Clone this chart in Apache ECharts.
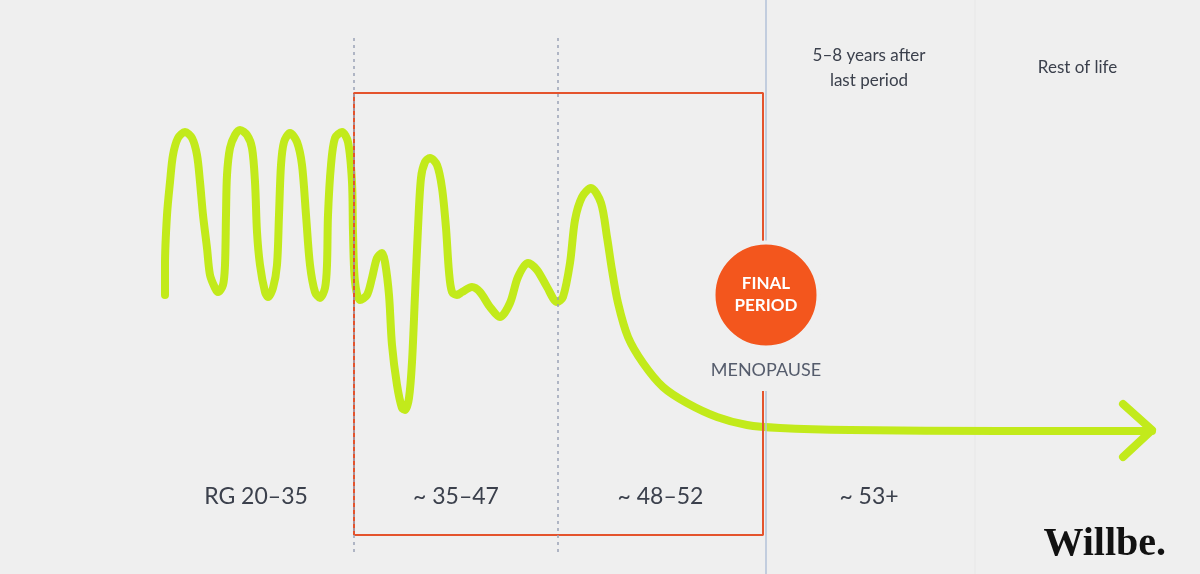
<!DOCTYPE html>
<html>
<head>
<meta charset="utf-8">
<script src="https://cdn.jsdelivr.net/npm/echarts@6/dist/echarts.min.js"></script>
<style>
  html, body { margin: 0; padding: 0; background: #efefef; }
  #chart { width: 1200px; height: 574px; }
</style>
</head>
<body>
<div id="chart"></div>
<script>
// ---- data (x = time position along the life course, level = hormone level) ----
const hormoneCurve = [
  [165,279],[165,309],[167,359],[170,392],[173,419],[178,436],[185,442],[192,436],[197,419],[200,392],[203,359],[207,326],
  [210,299],[215,286],[218,282],[223,289],[225,309],[226,359],[227,399],[230,426],[235,439],[240,444],[247,439],[252,426],
  [255,392],[257,342],[260,309],[265,282],[268,277],[273,286],[277,309],[279,359],[281,409],[284,432],[290,441],[297,432],
  [302,409],[306,359],[310,309],[315,282],[320,276],[325,286],[327,309],[328,359],[331,409],[335,436],[342,442],[348,432],
  [352,392],[353,342],[355,292],[360,274],[367,279],[372,296],[377,316],[382,321],[385,312],[389,279],[392,229],[397,189],
  [402,166],[405,164],[409,176],[412,212],[415,279],[418,346],[421,396],[425,412],[430,416],[437,409],[442,386],[446,346],
  [449,302],[452,282],[457,279],[462,282],[472,287],[480,282],[490,267],[500,257],[510,271],[518,297],[528,311],[537,304],
  [547,287],[557,272],[563,277],[570,311],[575,354],[582,377],[591,386],[601,371],[607,337],[612,304],[618,271],[628,237],
  [643,211],[663,187],[687,171],[717,157],[747,149],[780,146],[850,144],[1000,143],[1152,143]
];
const arrowHead = [[1123,170],[1152,144],[1123,117]];
const columnBounds = [158, 354, 558, 763, 975, 1180];
const stageLabels = ['RG 20–35', '~ 35–47', '~ 48–52', '~ 53+', ''];
const topLabels = ['', '', '', '5–8 years after\nlast period', 'Rest of life'];
const transitionBox = { left: 354, right: 763, top: 481, bottom: 39 };
const dottedDividers = [354, 558];
const dividerSpan = [22, 539];
const menopauseLine = 766;
const faintDivider = 975;
const finalPeriod = { x: 766, level: 279, label: 'FINAL\nPERIOD', caption: 'MENOPAUSE', captionLevel: 204 };
const stageLabelLevel = 77;
const topLabelLevel = 506;

// ---- build option ----
const mids = columnBounds.slice(0, -1).map((b, i) => (b + columnBounds[i + 1]) / 2);
const bg = '#efefef';
const textColor = '#3b404c';
const font = 'Lato';

const series = [];
series.push({
  type: 'line', data: hormoneCurve, smooth: 0.3, symbol: 'none', z: 2,
  lineStyle: { color: '#c2ea1b', width: 8, cap: 'round', join: 'round' }
});
series.push({
  type: 'line', data: arrowHead, symbol: 'none', z: 2,
  lineStyle: { color: '#c2ea1b', width: 8, cap: 'round', join: 'round' }
});
series.push({
  type: 'line', data: [[faintDivider, 0], [faintDivider, 574]], symbol: 'none', z: 1,
  lineStyle: { color: '#e7e7e7', width: 1 }
});
const b = transitionBox;
series.push({
  type: 'line', symbol: 'none', z: 3,
  data: [[b.left, b.bottom], [b.left, b.top], [b.right, b.top], [b.right, b.bottom], [b.left, b.bottom]],
  lineStyle: { color: '#e4532c', width: 2 }
});
dottedDividers.forEach(x => {
  series.push({
    type: 'line', symbol: 'none', z: 4,
    data: [[x, dividerSpan[0]], [x, dividerSpan[1]]],
    lineStyle: { color: '#9aa3b6', width: 1.5, type: [3, 4] }
  });
});
series.push({
  type: 'line', symbol: 'none', z: 4,
  data: [[menopauseLine, 0], [menopauseLine, 574]],
  lineStyle: { color: '#b3c2d8', width: 1.5 }
});
series.push({
  type: 'scatter', z: 6, symbolSize: 105,
  data: [[finalPeriod.x, finalPeriod.level]],
  itemStyle: { color: '#f3561d', borderColor: bg, borderWidth: 4, opacity: 1 },
  label: {
    show: true, position: 'inside', formatter: finalPeriod.label,
    color: '#fff', fontFamily: font, fontWeight: 'bold', fontSize: 17, lineHeight: 22
  }
});
series.push({
  type: 'scatter', z: 6, symbolSize: 0,
  data: [[finalPeriod.x, finalPeriod.captionLevel]],
  itemStyle: { opacity: 1 },
  label: {
    show: true, position: 'inside', formatter: finalPeriod.caption,
    color: '#555c6c', fontFamily: font, fontSize: 18,
    backgroundColor: bg, padding: [12, 4]
  }
});
series.push({
  type: 'scatter', z: 6, symbolSize: 0,
  data: stageLabels.map((t, i) => ({ value: [mids[i], stageLabelLevel], name: t })),
  itemStyle: { opacity: 1 },
  label: { show: true, position: 'inside', formatter: '{b}', color: textColor, fontFamily: font, fontSize: 23 }
});
series.push({
  type: 'scatter', z: 6, symbolSize: 0,
  data: topLabels.map((t, i) => ({ value: [mids[i], topLabelLevel], name: t })),
  itemStyle: { opacity: 1 },
  label: { show: true, position: 'inside', formatter: '{b}', color: textColor, fontFamily: font, fontSize: 17, lineHeight: 25 }
});

const option = {
  backgroundColor: bg,
  animation: false,
  grid: { left: 0, right: 0, top: 0, bottom: 0 },
  xAxis: { type: 'value', min: 0, max: 1200, show: false },
  yAxis: { type: 'value', min: 0, max: 574, show: false },
  series: series,
  graphic: [{
    type: 'text', x: 1166, y: 545, z: 10,
    style: { text: 'Willbe.', align: 'right', verticalAlign: 'middle',
      font: 'bold 40px "Liberation Serif", "DejaVu Serif", serif', fill: '#111' }
  }]
};
const chart = echarts.init(document.getElementById('chart'), null, { renderer: 'canvas' });
chart.setOption(option);
</script>
</body>
</html>
